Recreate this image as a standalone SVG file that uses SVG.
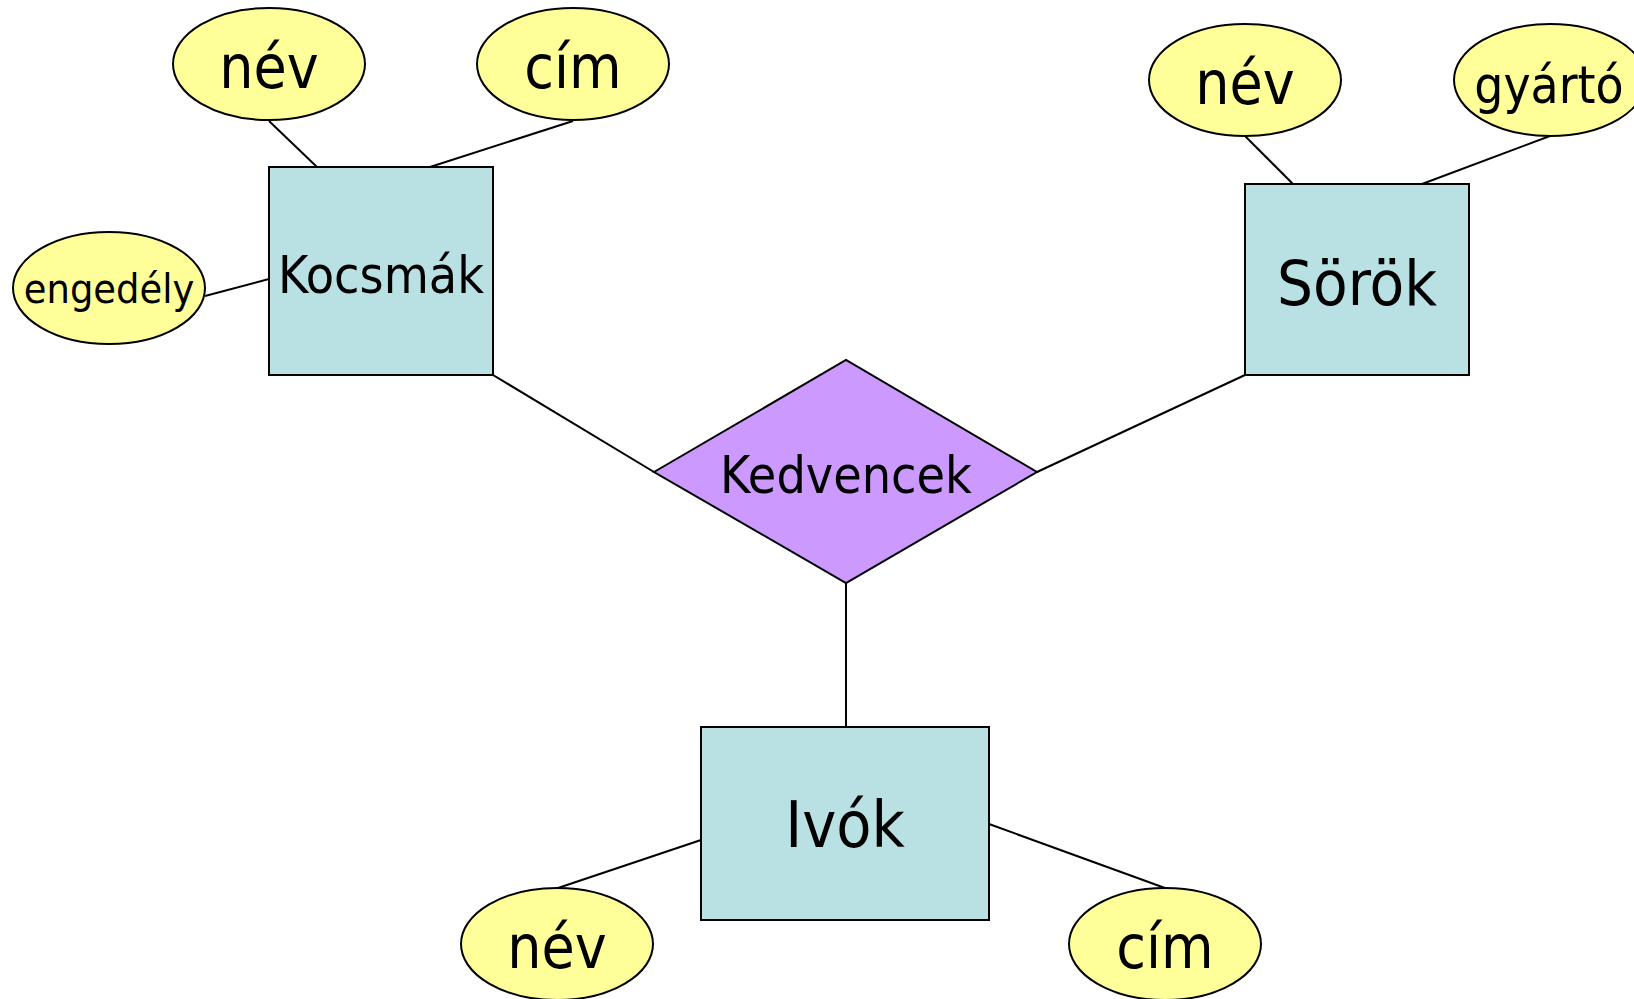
<svg xmlns="http://www.w3.org/2000/svg" width="1634" height="999" viewBox="0 0 1634 999">
<style>
text{font-family:"DejaVu Sans Condensed","DejaVu Sans","Liberation Sans",sans-serif;fill:#000;text-anchor:middle}
.ent{fill:#B9E0E3;stroke:#000;stroke-width:2}
.att{fill:#FFFF99;stroke:#000;stroke-width:2}
.rel{fill:#CC99FF;stroke:#000;stroke-width:2}
.conn line{stroke:#000;stroke-width:2}
</style>
<rect width="1634" height="999" fill="#fff"/>
<g id="connectors" class="conn">
<line x1="269" y1="121" x2="317" y2="167"/>
<line x1="573" y1="121" x2="430" y2="167"/>
<line x1="205" y1="296" x2="269" y2="279"/>
<line x1="493" y1="375" x2="654" y2="472"/>
<line x1="1245" y1="136" x2="1293" y2="184"/>
<line x1="1550" y1="136" x2="1422" y2="184"/>
<line x1="1245" y1="375" x2="1037" y2="472"/>
<line x1="846" y1="583" x2="846" y2="727"/>
<line x1="701" y1="840" x2="558" y2="888"/>
<line x1="989" y1="824" x2="1165" y2="888"/>
</g>
<g id="kocsmak"><rect class="ent" x="269" y="167" width="224" height="208"/><text x="381" y="293" font-size="51.5">Kocsmák</text></g>
<g id="sorok"><rect class="ent" x="1245" y="184" width="224" height="191"/><text x="1357" y="305" font-size="63">Sörök</text></g>
<g id="ivok"><rect class="ent" x="701" y="727" width="288" height="193"/><text x="845" y="847" font-size="64">Ivók</text></g>
<g id="kedvencek"><polygon class="rel" points="654,472 846,360 1037,472 846,583"/><text x="846" y="493" font-size="51.5">Kedvencek</text></g>
<g id="kocsmak-nev"><ellipse class="att" cx="269" cy="64" rx="96" ry="56"/><text x="269" y="88" font-size="60">név</text></g>
<g id="kocsmak-cim"><ellipse class="att" cx="573" cy="64" rx="96" ry="56"/><text x="573" y="88" font-size="60">cím</text></g>
<g id="kocsmak-engedely"><ellipse class="att" cx="109" cy="288" rx="96" ry="56"/><text x="109" y="303" font-size="41">engedély</text></g>
<g id="sorok-nev"><ellipse class="att" cx="1245" cy="80" rx="96" ry="56"/><text x="1245" y="104" font-size="60">név</text></g>
<g id="sorok-gyarto"><ellipse class="att" cx="1550" cy="80" rx="96" ry="56"/><text x="1549" y="103" font-size="51">gyártó</text></g>
<g id="ivok-nev"><ellipse class="att" cx="557" cy="944" rx="96" ry="56"/><text x="557" y="968" font-size="60">név</text></g>
<g id="ivok-cim"><ellipse class="att" cx="1165" cy="944" rx="96" ry="56"/><text x="1165" y="968" font-size="60">cím</text></g>
</svg>
